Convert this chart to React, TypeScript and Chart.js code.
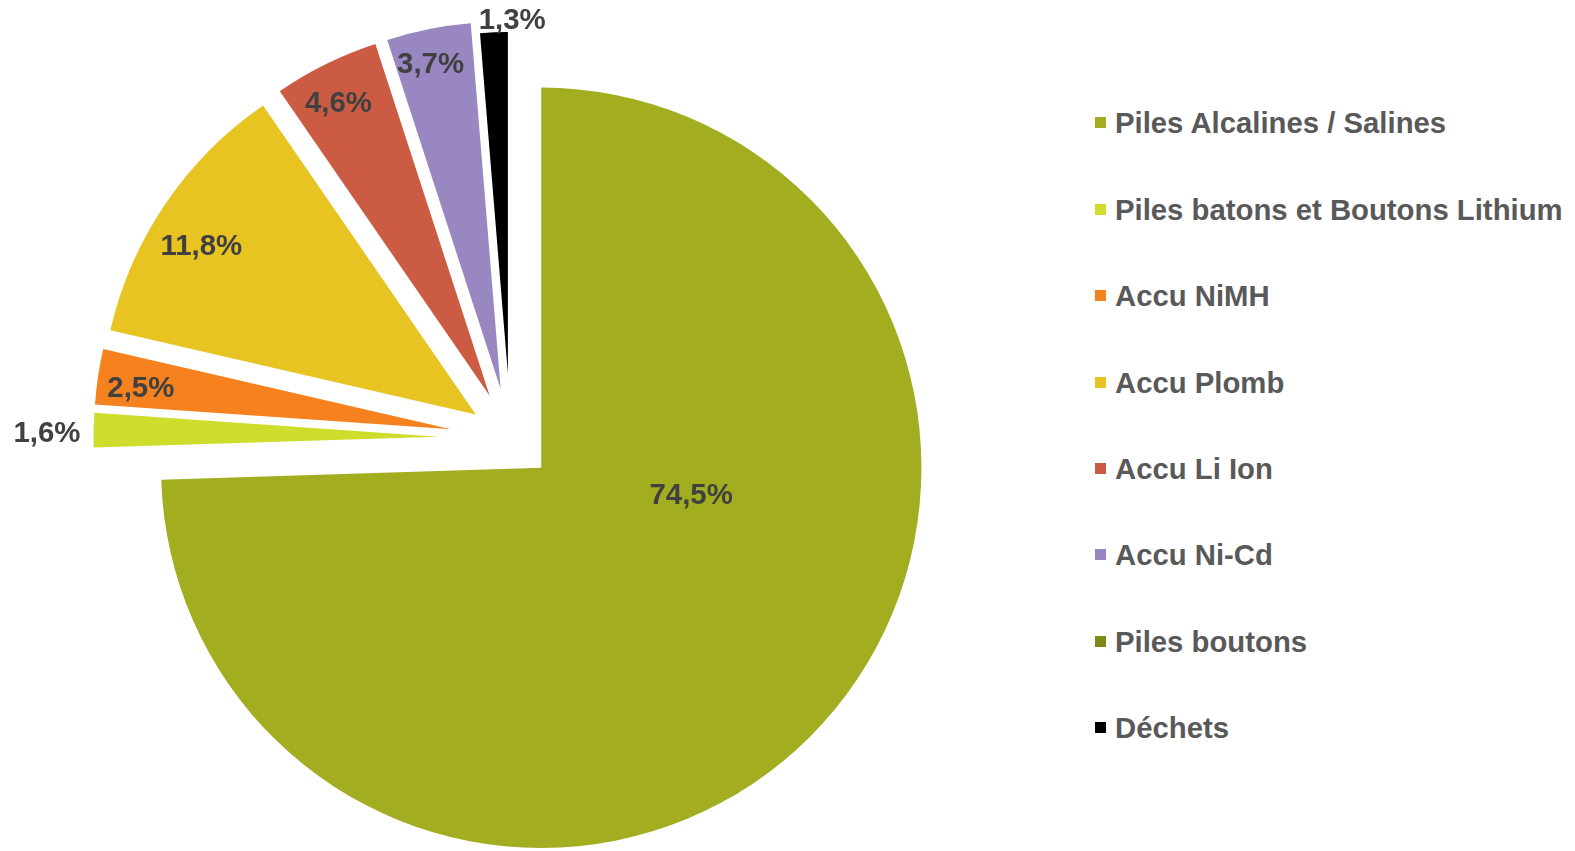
import React, { useEffect, useRef } from 'react';
import { Chart, registerables, ArcElement } from 'chart.js';

Chart.register(...registerables);

// ---- data ----
const categories = [
  'Piles Alcalines / Salines',
  'Piles batons et Boutons Lithium',
  'Accu NiMH',
  'Accu Plomb',
  'Accu Li Ion',
  'Accu Ni-Cd',
  'Piles boutons',
  'Déchets',
];
const shares = [74.5, 1.6, 2.5, 11.8, 4.6, 3.7, 0, 1.3];

// ---- styles ----
const colors = ['#A2AD1F', '#CEDD2B', '#F5821F', '#E8C423', '#CC5B43', '#9887C0', '#7D8A16', '#000000'];
const explode = [42.8, 72, 60, 42, 47, 50, 0, 64]; // px each slice is pulled out
const trim = [-6, 0, 0, 0, 0, 0, 0, 11]; // extra radius reduction
const labelShiftX = [0, 0, 0, 0, 0, 0, 0, 21]; // horizontal nudge of a label kept inside the canvas
const OUTER_RADIUS = 417;
const LABEL_SIZE = 29.4;
const LEGEND_SIZE = 29.3;
const FONT = '"Liberation Sans", Arial, sans-serif';

// Exploded arc: slice is pushed out along its bisector and shortened by the same amount
class ExplodedArc extends (ArcElement as any) {
  static id = 'explodedArc';
  static defaults = { explode: 0, trim: 0 };
  draw(ctx: CanvasRenderingContext2D) {
    const self: any = this;
    const o: any = self.options;
    const { x, y, startAngle, endAngle, outerRadius, circumference } = self;
    if (!circumference) return;
    const t = o.explode || 0;
    const mid = (startAngle + endAngle) / 2;
    const cx = x + Math.cos(mid) * t;
    const cy = y + Math.sin(mid) * t;
    const r = Math.max(outerRadius - t - (o.trim || 0), 0);
    ctx.save();
    ctx.beginPath();
    ctx.moveTo(cx, cy);
    ctx.arc(cx, cy, r, startAngle, endAngle);
    ctx.closePath();
    ctx.fillStyle = o.backgroundColor;
    ctx.fill();
    ctx.restore();
  }
}
Chart.register(ExplodedArc as any);
(Chart.defaults as any).datasets.pie.dataElementType = 'explodedArc';

const fmt = (v: number) => v.toFixed(1).replace('.', ',') + '%';

const labelPlugin = {
  id: 'sliceLabels',
  afterDatasetsDraw(chart: any) {
    const meta = chart.getDatasetMeta(0);
    const ctx: CanvasRenderingContext2D = chart.ctx;
    ctx.save();
    ctx.font = `bold ${LABEL_SIZE}px ${FONT}`;
    ctx.fillStyle = '#404040';
    ctx.textAlign = 'center';
    ctx.textBaseline = 'alphabetic';
    const cap = LABEL_SIZE * 0.716;
    const boxH = 36;
    meta.data.forEach((arc: any, i: number) => {
      const v = shares[i];
      if (!v) return;
      const { x, y, startAngle, endAngle, outerRadius, circumference } = arc;
      const t = arc.options.explode || 0;
      const r = outerRadius - t - (arc.options.trim || 0);
      const mid = (startAngle + endAngle) / 2;
      const ax = x + Math.cos(mid) * t;
      const ay = y + Math.sin(mid) * t;
      const text = fmt(v);
      const w = ctx.measureText(text).width;
      let lx: number;
      let ly: number;
      if (circumference > Math.PI) {
        const a = startAngle + 0.372 * (endAngle - startAngle);
        lx = ax + Math.cos(a) * 0.4 * r;
        ly = ay + Math.sin(a) * 0.4 * r;
      } else {
        const a = startAngle + 0.45 * (endAngle - startAngle);
        const c = Math.cos(a);
        const s = Math.sin(a);
        const ext = (Math.abs(c) * w) / 2 + (Math.abs(s) * boxH) / 2;
        const reach = t + r;
        const d = v < 2 ? reach + 13 + (Math.abs(c) * w) / 2 + (Math.abs(s) * cap) / 2 : reach - 8 - ext;
        lx = x + c * d;
        ly = y + s * d;
      }
      const minY = 8 + cap / 2;
      if (ly < minY) {
        ly = minY;
        lx += labelShiftX[i] || 0;
      }
      ctx.fillText(text, lx, ly + cap / 2);
    });
    ctx.restore();
  },
};

export default function App() {
  const ref = useRef<HTMLCanvasElement>(null);
  useEffect(() => {
    const chart = new Chart(ref.current as HTMLCanvasElement, {
      type: 'pie',
      data: {
        labels: categories,
        datasets: [
          {
            data: shares,
            backgroundColor: colors,
            borderWidth: 0,
            explode,
            trim,
            radius: OUTER_RADIUS,
            clip: false,
          } as any,
        ],
      },
      options: {
        responsive: false,
        animation: false,
        devicePixelRatio: 1,
        events: [],
        layout: { padding: { top: 25 } },
        plugins: { legend: { display: false }, tooltip: { enabled: false } },
      } as any,
      plugins: [labelPlugin],
    });
    return () => chart.destroy();
  }, []);

  return (
    <div style={{ position: 'absolute', left: 0, top: 0, width: 1575, height: 851, background: '#fff' }}>
      <canvas
        ref={ref}
        width={1021}
        height={851}
        style={{ position: 'absolute', left: 0, top: 0, width: 1021, height: 851 }}
      />
      <div style={{ position: 'absolute', left: 1095, top: 79.8 }}>
        {categories.map((c, i) => (
          <div key={c} style={{ height: 86.4, display: 'flex', alignItems: 'center' }}>
            <span style={{ width: 11, height: 11, background: colors[i], marginRight: 9, flex: 'none' }} />
            <span
              style={{
                font: `bold ${LEGEND_SIZE}px ${FONT}`,
                color: '#595959',
                lineHeight: 1,
                whiteSpace: 'nowrap',
              }}
            >
              {c}
            </span>
          </div>
        ))}
      </div>
    </div>
  );
}
